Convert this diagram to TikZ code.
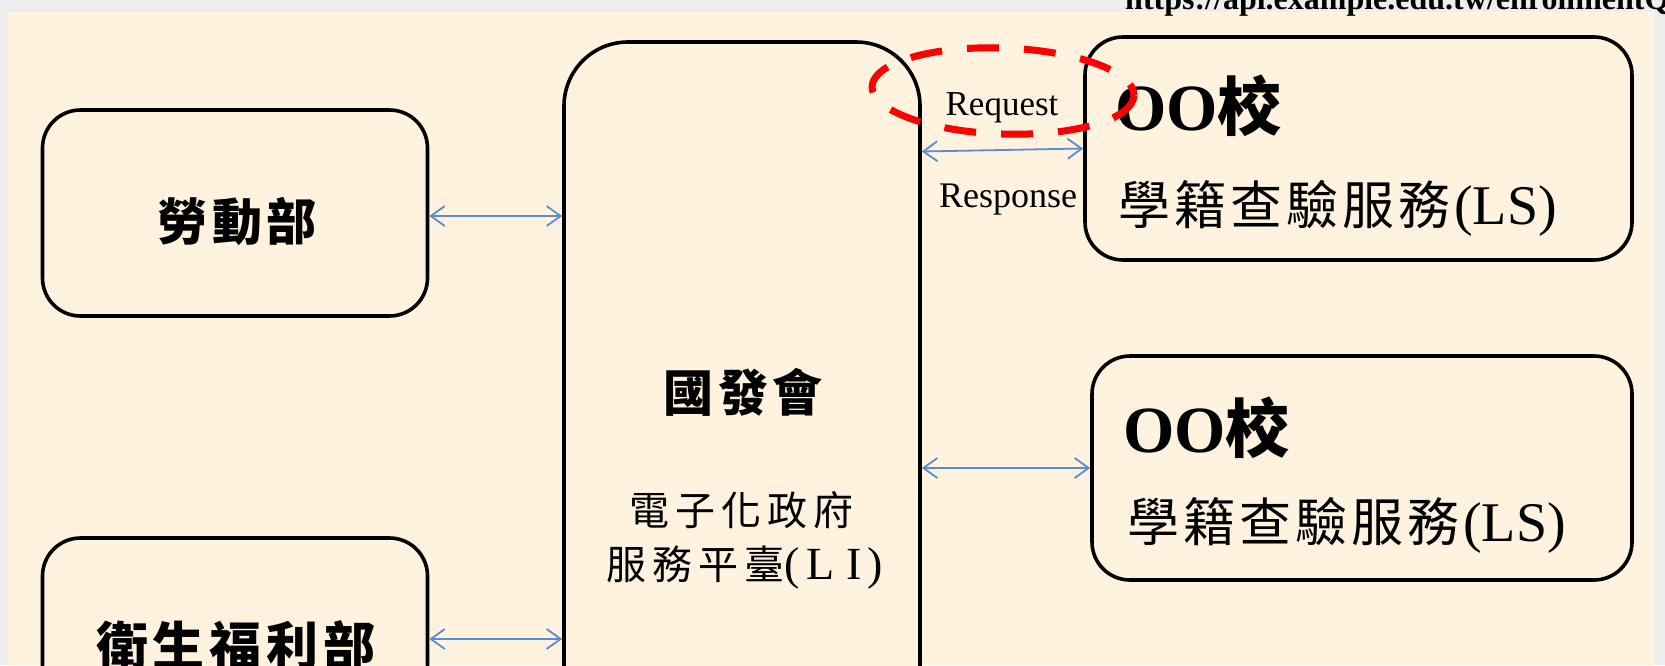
\documentclass[tikz,border=0pt]{standalone}
\usepackage{fontspec}
\setmainfont{Liberation Serif}
\newfontfamily\cjk{Noto Sans CJK TC}
\usetikzlibrary{arrows.meta}
\definecolor{cream}{HTML}{FFF3E0}
\definecolor{frame}{HTML}{EEEEEE}
\definecolor{arrowblue}{HTML}{5B8CCB}
\definecolor{markred}{HTML}{FF0000}
\newcommand\svctext{{\cjk\fontsize{52}{58}\selectfont 學\kern4pt 籍\kern4pt 查\kern4pt 驗\kern4pt 服\kern4pt 務}\kern4pt{\fontsize{56}{60}\selectfont(LS)}}
\newcommand\schoolname{\fontsize{66}{70}\selectfont\bfseries OO{\cjk\fontsize{64}{68}\selectfont 校}}
\begin{document}
\begin{tikzpicture}[x=1pt,y=-1pt,
  box/.style={draw=black, line width=3.6pt, rounded corners=38pt, fill=cream, inner sep=0pt},
  bigbox/.style={box, rounded corners=64pt},
  link/.style={draw=arrowblue, line width=1.8pt,
    {Straight Barb[length=14pt,width=20pt]}-{Straight Barb[length=14pt,width=20pt]}},
  redmark/.style={draw=markred, line width=7pt, dash pattern=on 32pt off 25pt},
  lbl/.style={inner sep=0pt},
  boldcjk/.style={lbl, font=\cjk\bfseries\fontsize{50}{56}\selectfont},
  cjktext/.style={lbl, font=\cjk\fontsize{40}{46}\selectfont},
  latin/.style={lbl, font=\fontsize{35}{40}\selectfont}
]
\useasboundingbox (0,0) rectangle (1665,665);
\clip (0,0) rectangle (1665,665);
\fill[frame] (0,0) rectangle (1665,665);
\fill[cream] (8,12) rectangle (1654,665);

% boxes
\node[box, minimum width=385pt, minimum height=206pt] (labor) at (235,213) {};
\node[box, minimum width=385pt, minimum height=202pt] (welfare) at (235,639) {};
\node[bigbox, minimum width=356pt, minimum height=718pt] (ndc) at (742,401) {};
\node[box, minimum width=547pt, minimum height=223pt] (school1) at (1358.5,148.5) {};
\node[box, minimum width=540pt, minimum height=224pt] (school2) at (1362,468) {};

% texts
\node[boldcjk] (laborT) at (237,221) {勞\kern4.5pt 動\kern4.5pt 部};
\node[boldcjk, font=\cjk\bfseries\fontsize{52}{58}\selectfont] (welfareT) at (236,645) {衛\kern5pt 生\kern5pt 福\kern5pt 利\kern5pt 部};
\node[boldcjk] (ndcT) at (743,392) {國\kern4.5pt 發\kern4.5pt 會};
\node[cjktext] (ndcS1) at (741,510) {電\kern6pt 子\kern6pt 化\kern6pt 政\kern6pt 府};
\node[cjktext] (ndcS2) at (745,568) {服\kern6pt 務\kern6pt 平\kern6pt 臺{\rmfamily\fontsize{46}{50}\selectfont(\kern6pt L\kern12pt I\kern6pt)}};

\node[lbl, anchor=base west] (s1name) at (1115,130) {\schoolname};
\node[lbl, anchor=base west] (s1svc) at (1118,224) {\svctext};
\node[lbl, anchor=base west] (s2name) at (1123,452) {\schoolname};
\node[lbl, anchor=base west] (s2svc) at (1127,541) {\svctext};

\node[latin, anchor=base] (req) at (1002,115) {Request};
\node[latin, anchor=base, font=\fontsize{36}{40}\selectfont] (resp) at (1008,207) {Response};

\node[lbl, anchor=base west, font=\bfseries\fontsize{32}{36}\selectfont] (url) at (1125,9) {https://api.example.edu.tw/enrollmentQ};

% connectors
\draw[link] ([yshift=-3pt]labor.east) -- ([yshift=-3pt]labor.east -| ndc.west);
\draw[link] (welfare.east) -- (welfare.east -| ndc.west);
\draw[link] ([yshift=-3pt]school1.west -| ndc.east) -- (school1.west);
\draw[link] (school2.west -| ndc.east) -- (school2.west);

% red highlight
\coordinate (markc) at (1003,91);
\draw[redmark, rotate around={-2:(markc)}] (markc) ellipse [x radius=131, y radius=43];
\end{tikzpicture}
\end{document}
